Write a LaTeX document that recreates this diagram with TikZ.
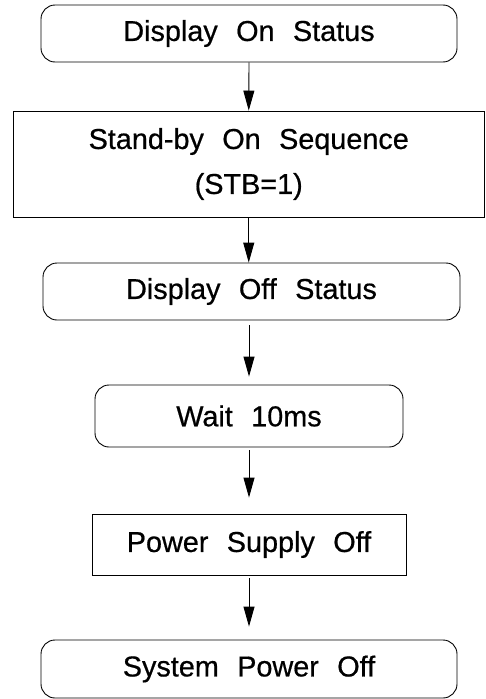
\documentclass[tikz,border=0pt]{standalone}
\usepackage{fontspec}
\setmainfont{Liberation Sans}[WordSpace=2.3, FakeBold=0.6]
\usetikzlibrary{arrows.meta}

\tikzset{
  box/.style={draw=black, line width=0.9pt, inner sep=0pt, align=center,
              font=\fontsize{28.8}{45}\selectfont},
  roundbox/.style={box, rounded corners=14pt},
  flow/.style={draw=black, line width=0.9pt, -{Triangle[length=20pt,width=11pt]}}
}

\begin{document}
\begin{tikzpicture}[x=1pt, y=-1pt]
  \useasboundingbox (0,0) rectangle (485,699);

  % process steps, top to bottom
  \node[roundbox, minimum width=416pt, minimum height=57pt] (b1) at (249,33.5) {Display On Status};
  \node[box, minimum width=471.5pt, minimum height=106pt] (b2) at (248.75,164) {Stand-by On Sequence\\(STB=1)};
  \node[roundbox, minimum width=417pt, minimum height=57pt] (b3) at (251.5,291.5) {Display Off Status};
  \node[roundbox, minimum width=308pt, minimum height=62pt] (b4) at (249,416) {Wait 10ms};
  \node[box, minimum width=314pt, minimum height=61pt] (b5) at (249,544.5) {Power Supply Off};
  \node[roundbox, minimum width=416pt, minimum height=58pt] (b6) at (249,669) {System Power Off};

  % connectors
  \draw[flow] (b1.south) -- (b2.north);
  \draw[flow] (b2.south) -- (b2.south |- b3.north);
  \draw[flow, shorten <=5pt, shorten >=8pt] (b4.north |- b3.south) -- (b4.north);
  \draw[flow, shorten <=3pt, shorten >=16pt] (b4.south) -- (b5.north);
  \draw[flow, shorten <=3pt, shorten >=13pt] (b5.south) -- (b6.north);
\end{tikzpicture}
\end{document}
